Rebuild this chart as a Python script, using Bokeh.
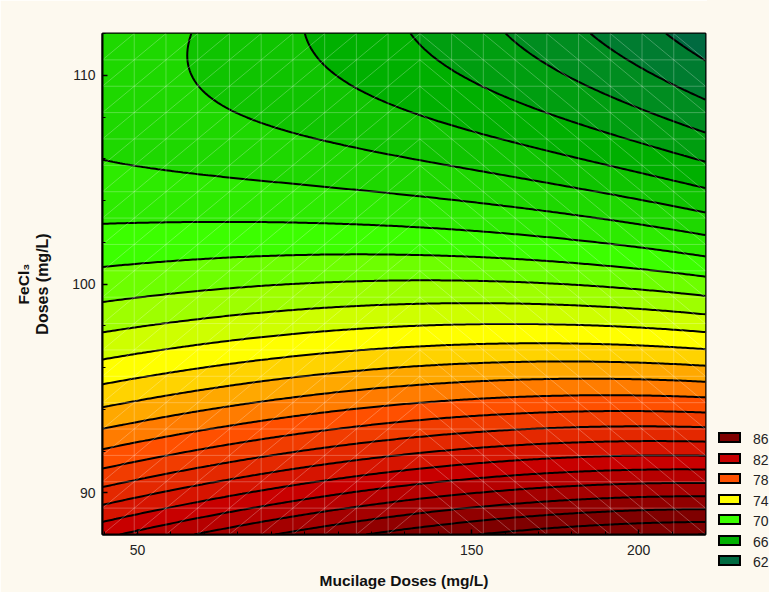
import numpy as np
from bokeh.plotting import figure
from bokeh.layouts import row
from bokeh.models import FixedTicker, Range1d, Title, Div
from bokeh.embed import file_html
from bokeh.resources import INLINE

# Contour crossings of the response surface (level -> position), read along
# the plot edges and along the column at Mucilage = 128.7 mg/L.
left_levels = [68, 69, 70, 71, 72, 73, 74, 75, 76, 77, 78, 79, 80, 81]
left_y = [105.92, 102.99, 100.98, 99.21, 97.72, 96.38, 95.08, 94.04,
          92.98, 92.07, 91.11, 90.25, 89.44, 88.72]

right_levels = list(range(62, 87))
right_y = [110.80, 108.89, 107.21, 105.82, 104.57, 103.47, 102.32, 101.27,
           100.31, 99.35, 98.49, 97.72, 96.96, 96.10, 95.28, 94.56, 93.89,
           93.22, 92.45, 91.78, 91.16, 90.49, 89.87, 89.15, 88.53]

top_levels = [67, 66, 65, 64, 63, 62]
top_x = [63.4, 101.2, 132.6, 159.5, 184.7, 208.6]

mid_levels = [66, 67, 68, 69]
mid_y = [108.55, 106.06, 104.24, 102.80]

X_MIN, X_MAX = 39.5, 220.0
Y_MIN, Y_MAX = 88.0, 112.0
MID_X = 128.7

# legend classes and their colours
legend_levels = [86, 82, 78, 74, 70, 66, 62]
legend_colors = ["#7f0000", "#c80000", "#ff5000", "#ffff00",
                 "#3cff00", "#00b000", "#006a40"]

x_ticks = [50, 150, 200]
y_ticks = [90, 100, 110]

# ---- response surface: cubic polynomial fitted to the crossings ----
px = np.concatenate([np.full(len(left_y), X_MIN), np.full(len(right_y), X_MAX),
                     np.array(top_x), np.full(len(mid_y), MID_X)])
py = np.concatenate([left_y, right_y, np.full(len(top_x), Y_MAX), mid_y])
pz = np.concatenate([left_levels, right_levels, top_levels, mid_levels]).astype(float)


def terms(x, y):
    u = (np.asarray(x) - 130.0) / 90.0
    v = (np.asarray(y) - 100.0) / 12.0
    return np.stack([np.ones_like(u), u, v, u * u, u * v, v * v,
                     u ** 3, u * u * v, u * v * v, v ** 3], axis=-1)


coef, *_ = np.linalg.lstsq(terms(px, py), pz, rcond=None)

gx = np.linspace(X_MIN, X_MAX, 241)
gy = np.linspace(Y_MIN, Y_MAX, 161)
GX, GY = np.meshgrid(gx, gy)
GZ = terms(GX, GY) @ coef

levels = list(range(50, 101))


def hex_rgb(h):
    return np.array([int(h[i:i + 2], 16) for i in (1, 3, 5)], dtype=float)


anchor_lv = np.array(legend_levels[::-1], dtype=float)
anchor_rgb = np.array([hex_rgb(c) for c in legend_colors[::-1]])


def band_color(z):
    rgb = [np.interp(z, anchor_lv, anchor_rgb[:, k]) for k in range(3)]
    return "#%02x%02x%02x" % tuple(int(round(c)) for c in rgb)


# each band takes the colour of its upper bound
band_colors = [band_color(lv + 1) for lv in levels[:-1]]

# ---- main contour figure ----
BG = "#fdf9ef"
FONT = "Liberation Sans"

p = figure(width=707, height=592, output_backend="svg", toolbar_location=None,
           x_range=Range1d(X_MIN, X_MAX), y_range=Range1d(Y_MIN, Y_MAX),
           min_border_left=102, min_border_right=2, min_border_top=33,
           min_border_bottom=58)
p.border_fill_color = BG
p.background_fill_color = BG
p.outline_line_color = "black"
p.outline_line_width = 2
p.xgrid.visible = False
p.ygrid.visible = False

p.contour(GX, GY, GZ, levels, fill_color=band_colors,
          line_color="black", line_width=2)

# faint mesh of the rendered surface
nx_cells, ny_cells = 19, 19
xs_mesh, ys_mesh = [], []
dx = (X_MAX - X_MIN) / nx_cells
dy = (Y_MAX - Y_MIN) / ny_cells
for i in range(1, nx_cells):
    xs_mesh.append([X_MIN + i * dx] * 2)
    ys_mesh.append([Y_MIN, Y_MAX])
for j in range(1, ny_cells):
    xs_mesh.append([X_MIN, X_MAX])
    ys_mesh.append([Y_MIN + j * dy] * 2)
for i in range(nx_cells):
    for j in range(ny_cells):
        x0, x1 = X_MIN + i * dx, X_MIN + (i + 1) * dx
        y0, y1 = Y_MIN + j * dy, Y_MIN + (j + 1) * dy
        xs_mesh.append([x0, x1])
        ys_mesh.append([y0, y1] if i < 10 else [y1, y0])
p.multi_line(xs_mesh, ys_mesh, line_color="white", line_alpha=0.25, line_width=1)

# axes
for ax in (p.xaxis[0], p.yaxis[0]):
    ax.axis_line_color = "black"
    ax.axis_line_width = 2
    ax.major_tick_in = 5
    ax.major_tick_out = 0
    ax.minor_tick_in = 3
    ax.minor_tick_out = 0
    ax.major_tick_line_color = "black"
    ax.minor_tick_line_color = "black"
    ax.major_tick_line_width = 1.5
    ax.major_label_text_font = FONT
    ax.major_label_text_font_size = "14px"
    ax.major_label_text_color = "#222222"
    ax.axis_label_text_font = FONT
    ax.axis_label_text_font_style = "bold"
    ax.axis_label_text_color = "#111111"

p.xaxis.ticker = FixedTicker(ticks=x_ticks, minor_ticks=list(range(40, 221, 10)))
p.yaxis.ticker = FixedTicker(ticks=y_ticks, minor_ticks=list(range(88, 113, 2)))
p.xaxis.major_label_standoff = 10
p.yaxis.major_label_standoff = 7
p.xaxis.axis_label = "Mucilage Doses (mg/L)"
p.xaxis.axis_label_text_font_size = "15.5px"
p.xaxis.axis_label_standoff = 14
p.yaxis.axis_label = "Doses (mg/L)"
p.yaxis.axis_label_text_font_size = "16px"
p.yaxis.axis_label_standoff = 18

# first line of the vertical axis title
p.add_layout(Title(text="FeCl\u2083", align="center", standoff=0,
                   text_font=FONT, text_font_size="15.5px",
                   text_font_style="bold", text_color="#111111"), "left")

# ---- legend panel to the right of the plot ----
LEG_W = 62
row_top, row_pitch = 432.0, 20.5
parts = [f'<div style="position:relative;width:{LEG_W}px;height:592px;'
         f'background:{BG};margin:0;padding:0;">']
for i, (lv, col) in enumerate(zip(legend_levels, legend_colors)):
    top = row_top + i * row_pitch
    parts.append(f'<div style="position:absolute;left:11px;top:{top:.1f}px;'
                 f'width:23px;height:11px;background:{col};'
                 f'border:2px solid #000000;"></div>')
    parts.append(f'<div style="position:absolute;left:46px;top:{top - 1:.1f}px;'
                 f"font-family:'{FONT}';font-size:14px;line-height:17px;"
                 f'color:#222222;">{lv}</div>')
parts.append('</div>')
legend_div = Div(text="".join(parts), width=LEG_W, height=592, margin=0,
                 styles={"background-color": BG})

layout = row(p, legend_div)
open("out.html", "w").write(file_html(layout, INLINE))
